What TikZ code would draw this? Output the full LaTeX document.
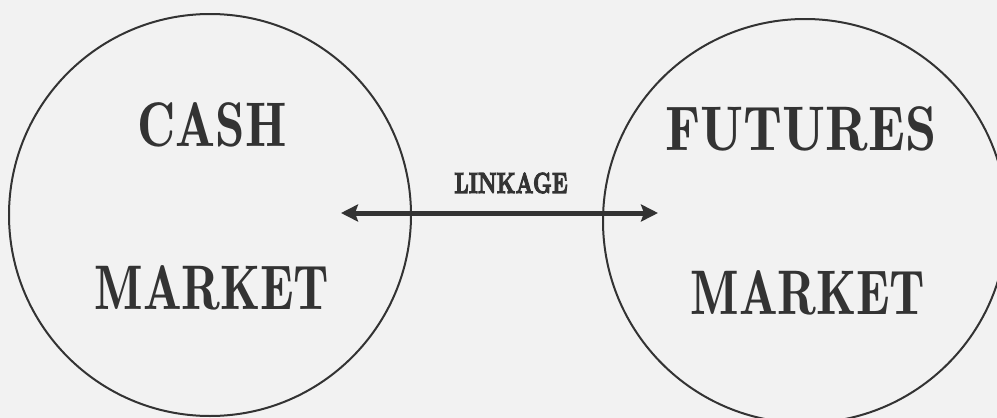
\documentclass[tikz,border=0pt]{standalone}
\usepackage{graphicx}
\usepackage{fontspec}
\newfontfamily\lmdemi{lmromandemi10-regular}[Extension=.otf]
\newfontfamily\lmbold{lmroman10-bold}[Extension=.otf, FakeBold=4]
\usetikzlibrary{arrows.meta}
\definecolor{ink}{HTML}{333333}
\definecolor{paper}{HTML}{F2F2F2}
\tikzset{
  marketring/.style={draw=ink, line width=2pt},
  bigtext/.style={text=ink, inner sep=0pt, font=\lmdemi\fontsize{63}{63}\selectfont},
  linktext/.style={text=ink, inner sep=0pt, font=\lmbold\fontsize{29}{29}\selectfont},
  linkarrow/.style={draw=ink, line width=5pt, {Stealth[length=17pt,width=17pt,inset=3pt]}-{Stealth[length=17pt,width=17pt,inset=3pt]}}
}
\begin{document}
\begin{tikzpicture}[x=1pt,y=-1pt]
\fill[paper] (0,0) rectangle (997,418);
\useasboundingbox (0,0) rectangle (997,418);
\draw[marketring] (210,215) circle[radius=201];
\draw[marketring] (805,221) circle[radius=202];
\node[bigtext] (cash) at (212,125) {\scalebox{0.84}[1]{CASH}};
\node[bigtext] (cashm) at (212,288) {\scalebox{0.81}[1]{MARKET}};
\node[bigtext] (fut) at (801,129) {\scalebox{0.89}[1]{FUTURES}};
\node[bigtext] (futm) at (808,293) {\scalebox{0.81}[1]{MARKET}};
\node[linktext] (link) at (511,183) {\scalebox{0.72}[1]{LINKAGE}};
\coordinate (a) at (341,213);
\coordinate (b) at (658,213);
\draw[linkarrow] (a) -- (b);
\end{tikzpicture}
\end{document}
